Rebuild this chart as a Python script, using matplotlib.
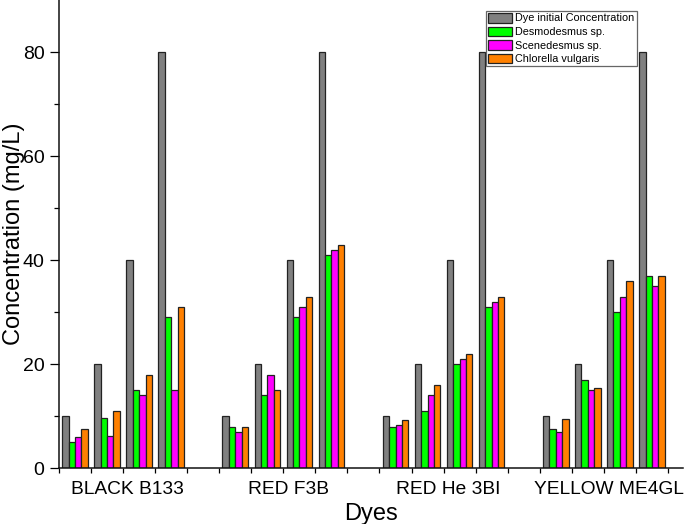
import matplotlib
matplotlib.use("Agg")
import matplotlib.pyplot as plt
import numpy as np

plt.rcParams['font.family'] = ['Liberation Sans', 'DejaVu Sans']

dyes = ["BLACK B133", "RED F3B", "RED He 3BI", "YELLOW ME4GL"]
levels = [10, 20, 40, 80]
series_names = ["Dye initial Concentration", "Desmodesmus sp.",
                "Scenedesmus sp.", "Chlorella vulgaris"]
colors = ["#808080", "#00FF00", "#FF00FF", "#FF8000"]

# values per dye, ordered by initial level 10, 20, 40, 80
initial = {d: [10, 20, 40, 80] for d in dyes}
desmodesmus = {
    "BLACK B133": [5, 9.6, 15, 29],
    "RED F3B": [8, 14, 29, 41],
    "RED He 3BI": [8, 11, 20, 31],
    "YELLOW ME4GL": [7.5, 17, 30, 37],
}
scenedesmus = {
    "BLACK B133": [6, 6.2, 14, 15],
    "RED F3B": [7, 18, 31, 42],
    "RED He 3BI": [8.4, 14, 21, 32],
    "YELLOW ME4GL": [7, 15, 33, 35],
}
chlorella = {
    "BLACK B133": [7.5, 11, 18, 31],
    "RED F3B": [8, 15, 33, 43],
    "RED He 3BI": [9.2, 16, 22, 33],
    "YELLOW ME4GL": [9.4, 15.5, 36, 37],
}
all_series = [initial, desmodesmus, scenedesmus, chlorella]

fig = plt.figure(figsize=(6.85, 5.24), dpi=100)
ax = fig.add_axes([59/685, (524-468.3)/524, (683-59)/685, 468.3/524])

bw = 0.2
offsets = np.array([-1.5, -0.5, 0.5, 1.5]) * bw

for si, (ser, name, col) in enumerate(zip(all_series, series_names, colors)):
    xs, ys = [], []
    for gi, d in enumerate(dyes):
        for li in range(len(levels)):
            xs.append(gi * 5 + li + offsets[si])
            ys.append(ser[d][li])
    ax.bar(xs, ys, width=bw, color=col, edgecolor="#222222", linewidth=0.9,
           label=name, zorder=2)

ax.set_ylim(0, 90)
ax.set_xlim(-0.5, 18.97)
ax.set_yticks([0, 20, 40, 60, 80])
ax.set_yticks([10, 30, 50, 70], minor=True)

ax.set_xticks(np.arange(-0.5, 19, 1.0))
ax.set_xticklabels([])
ax.set_xticks([gi * 5 + 1.65 for gi in range(len(dyes))], minor=True)
ax.set_xticklabels(dyes, minor=True)

ax.tick_params(axis='y', which='major', direction='out', length=6.5, width=0.9,
               labelsize=14, pad=4)
ax.tick_params(axis='y', which='minor', direction='out', length=3.4, width=0.9)
ax.tick_params(axis='x', which='major', direction='out', length=3.5, width=0.9)
ax.tick_params(axis='x', which='minor', length=0, labelsize=13.8, pad=9)

for s in ['top', 'right']:
    ax.spines[s].set_visible(False)
for s in ['left', 'bottom']:
    ax.spines[s].set_linewidth(1.1)
    ax.spines[s].set_color('#111111')

ax.set_xlabel("Dyes", fontsize=17, labelpad=4)
ax.set_ylabel("Concentration (mg/L)", fontsize=17)
ax.yaxis.set_label_coords(-0.054, 0.5)

leg = ax.legend(loc='upper right', bbox_to_anchor=(0.926, 0.977),
                borderaxespad=0, fontsize=7.8, frameon=True, fancybox=False,
                edgecolor='#666666', framealpha=1, labelspacing=0.28,
                handlelength=2.2, handleheight=1.0, handletextpad=0.3,
                borderpad=0.2)
leg.get_frame().set_linewidth(0.9)
leg.set_zorder(5)

fig.savefig("out.png", dpi=100)
